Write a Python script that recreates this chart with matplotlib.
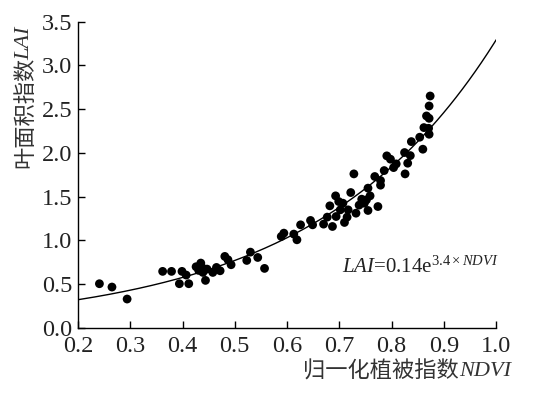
import numpy as np
import matplotlib
matplotlib.use("Agg")
import matplotlib.pyplot as plt

# ---- data ----
ndvi = [0.241, 0.265, 0.294, 0.362, 0.379, 0.394, 0.399, 0.407, 0.412, 0.426,
        0.431, 0.435, 0.437, 0.439, 0.442, 0.444, 0.447, 0.458, 0.465, 0.472,
        0.481, 0.487, 0.493, 0.523, 0.530, 0.544, 0.557, 0.589, 0.594, 0.613,
        0.619, 0.626, 0.645, 0.649, 0.670, 0.677, 0.682, 0.687, 0.693, 0.694,
        0.699, 0.702, 0.707, 0.710, 0.715, 0.717, 0.722, 0.728, 0.732, 0.738,
        0.743, 0.748, 0.752, 0.755, 0.755, 0.759, 0.768, 0.774, 0.779, 0.779,
        0.786, 0.791, 0.798, 0.804, 0.809, 0.825, 0.826, 0.831, 0.836, 0.838,
        0.854, 0.860, 0.862, 0.867, 0.871, 0.872, 0.872, 0.874, 0.872]
lai = [0.506, 0.468, 0.331, 0.647, 0.647, 0.506, 0.647, 0.605, 0.506, 0.700,
       0.658, 0.742, 0.692, 0.635, 0.673, 0.544, 0.673, 0.635, 0.692, 0.654,
       0.818, 0.780, 0.723, 0.772, 0.867, 0.806, 0.681, 1.046, 1.084, 1.073,
       1.008, 1.179, 1.229, 1.179, 1.187, 1.267, 1.396, 1.160, 1.510, 1.274,
       1.445, 1.350, 1.426, 1.206, 1.267, 1.350, 1.548, 1.761, 1.312, 1.404,
       1.472, 1.426, 1.464, 1.343, 1.598, 1.510, 1.731, 1.388, 1.685, 1.632,
       1.799, 1.967, 1.929, 1.833, 1.875, 2.005, 1.761, 1.883, 1.970, 2.130,
       2.180, 2.043, 2.290, 2.423, 2.282, 2.214, 2.537, 2.651, 2.396]
# fitted exponential trend as drawn in the figure
fit_a = 0.181
fit_b = 2.90
xticks = [0.2, 0.3, 0.4, 0.5, 0.6, 0.7, 0.8, 0.9, 1.0]
yticks = [0.0, 0.5, 1.0, 1.5, 2.0, 2.5, 3.0, 3.5]

ylabel_cn = "叶面积指数"
ylabel_en = "LAI"
xlabel_cn = "归一化植被指数"
xlabel_en = "NDVI"

plt.rcParams["font.family"] = ["Liberation Serif", "Noto Sans CJK SC", "DejaVu Sans"]
plt.rcParams["mathtext.fontset"] = "custom"
plt.rcParams["mathtext.rm"] = "Liberation Serif"
plt.rcParams["mathtext.it"] = "Liberation Serif:italic"

W, H = 545, 393
fig = plt.figure(figsize=(W / 100, H / 100), dpi=100)
x0, x1 = 78, 496
y0, y1 = 328, 21.7
ax = fig.add_axes([x0 / W, 1 - y0 / H, (x1 - x0) / W, (y0 - y1) / H])

ax.scatter(ndvi, lai, s=40, color="black", edgecolors="none", zorder=3)
xc = np.linspace(0.2, 1.0, 200)
ax.plot(xc, fit_a * np.exp(fit_b * xc), color="black", lw=1.0)

ax.set_xlim(0.2, 1.0)
ax.set_ylim(0.0, 3.5)
ax.set_xticks(xticks)
ax.set_yticks(yticks)
ax.set_xticklabels([f"{v:.1f}" for v in xticks])
ax.set_yticklabels([f"{v:.1f}" for v in yticks])
ax.spines["top"].set_visible(False)
ax.spines["right"].set_visible(False)
for sp in ("left", "bottom"):
    ax.spines[sp].set_linewidth(1.0)
ax.tick_params(direction="in", length=5, width=1.0, labelsize=17.5, colors="black")
ax.tick_params(axis="x", pad=6)
ax.tick_params(axis="y", pad=4)
for lab in ax.get_xticklabels() + ax.get_yticklabels():
    lab.set_fontfamily("Liberation Serif")
    lab.set_color("#222222")

# equation
ax.text(342 / W, 1 - 267 / H,
        r"$\mathit{LAI}$=0.14e$^{3.4\times\mathit{NDVI}}$",
        transform=fig.transFigure, fontsize=15, ha="left", va="center",
        color="#222222")

# y label: Chinese + italic Latin, chained
fig.canvas.draw()
r = fig.canvas.get_renderer()
ty = fig.text(25 / W, 1 - 168 / H, ylabel_cn, rotation=90, ha="center", va="bottom",
              fontsize=16, family=["Noto Sans CJK SC"], color="#333333")
bb = ty.get_window_extent(r)
fig.text(25 / W, (bb.y1 - 3) / H, ylabel_en, rotation=90, ha="center", va="bottom",
         fontsize=16, family=["Liberation Serif"], style="italic", color="#333333")

# x label
tx = fig.text(303 / W, 1 - 371 / H, xlabel_cn, ha="left", va="center",
              fontsize=16, family=["Noto Sans CJK SC"], color="#333333")
bb = tx.get_window_extent(r)
fig.text(bb.x1 / W, 1 - 371 / H, xlabel_en, ha="left", va="center",
         fontsize=16, family=["Liberation Serif"], style="italic", color="#333333")

fig.savefig("out.png", dpi=100)
